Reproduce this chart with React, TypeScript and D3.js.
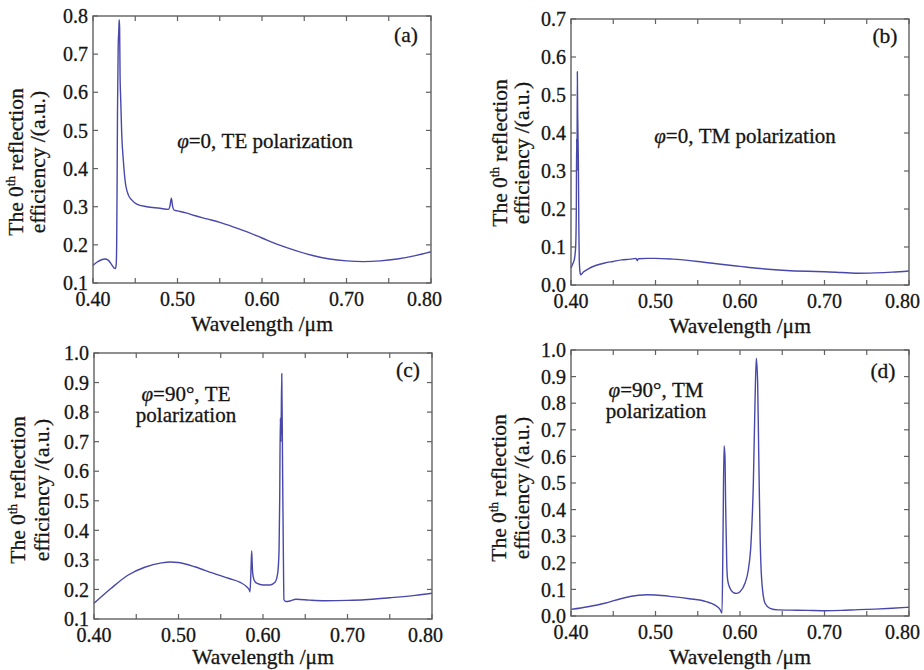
import React from "react";
import * as d3 from "d3";

// ---- Data ----
const wlA = [0.400, 0.405, 0.410, 0.414, 0.418, 0.422, 0.425, 0.4265, 0.4275, 0.428, 0.4285, 0.429, 0.4298, 0.4305, 0.431, 0.4315, 0.432, 0.4328, 0.434, 0.4359, 0.4379, 0.4418, 0.4458, 0.4517, 0.4635, 0.4793, 0.4892, 0.4911, 0.4927, 0.4943, 0.4959, 0.500, 0.510, 0.520, 0.535, 0.550, 0.565, 0.580, 0.600, 0.620, 0.640, 0.660, 0.680, 0.700, 0.720, 0.740, 0.760, 0.780, 0.800];
const effA = [0.146, 0.155, 0.161, 0.163, 0.16, 0.148, 0.139, 0.138, 0.15, 0.2, 0.35, 0.55, 0.72, 0.76, 0.79, 0.77, 0.65, 0.58, 0.49, 0.422, 0.37, 0.331, 0.318, 0.307, 0.3, 0.296, 0.293, 0.302, 0.322, 0.3, 0.291, 0.289, 0.284, 0.277, 0.268, 0.259, 0.248, 0.236, 0.218, 0.2, 0.185, 0.172, 0.163, 0.158, 0.156, 0.158, 0.163, 0.171, 0.182];

const wlB = [0.400, 0.402, 0.404, 0.4055, 0.4063, 0.4067, 0.4071, 0.4075, 0.4079, 0.4087, 0.4093, 0.4098, 0.4106, 0.4114, 0.415, 0.42, 0.43, 0.44, 0.45, 0.46, 0.47, 0.477, 0.4785, 0.4795, 0.49, 0.50, 0.52, 0.55, 0.58, 0.60, 0.62, 0.65, 0.68, 0.70, 0.72, 0.74, 0.76, 0.78, 0.80];
const effB = [0.045, 0.055, 0.068, 0.1, 0.2, 0.386, 0.3, 0.561, 0.45, 0.33, 0.15, 0.066, 0.035, 0.027, 0.035, 0.042, 0.052, 0.058, 0.062, 0.066, 0.068, 0.07, 0.064, 0.069, 0.07, 0.07, 0.068, 0.062, 0.054, 0.049, 0.044, 0.039, 0.036, 0.035, 0.033, 0.031, 0.032, 0.034, 0.037];

const wlC = [0.40, 0.42, 0.44, 0.46, 0.48, 0.49, 0.50, 0.52, 0.54, 0.56, 0.573, 0.5807, 0.5838, 0.5846, 0.5856, 0.5866, 0.5872, 0.5878, 0.5894, 0.5925, 0.6004, 0.6083, 0.6142, 0.6174, 0.619, 0.6198, 0.6205, 0.6212, 0.6222, 0.6232, 0.624, 0.6248, 0.627, 0.632, 0.639, 0.655, 0.673, 0.70, 0.72, 0.75, 0.78, 0.80];
const effC = [0.153, 0.203, 0.248, 0.275, 0.29, 0.293, 0.291, 0.276, 0.256, 0.237, 0.224, 0.209, 0.198, 0.192, 0.25, 0.331, 0.29, 0.255, 0.232, 0.221, 0.215, 0.215, 0.224, 0.255, 0.333, 0.514, 0.78, 0.7, 0.93, 0.6, 0.35, 0.165, 0.159, 0.161, 0.167, 0.164, 0.162, 0.163, 0.165, 0.172, 0.18, 0.187];

const wlD = [0.40, 0.42, 0.44, 0.46, 0.48, 0.49, 0.50, 0.52, 0.54, 0.56, 0.5704, 0.5763, 0.5787, 0.5799, 0.5811, 0.5822, 0.5831, 0.5843, 0.5854, 0.5882, 0.5921, 0.5961, 0.60, 0.6059, 0.6098, 0.613, 0.6158, 0.6178, 0.6193, 0.6209, 0.6221, 0.6237, 0.6257, 0.6296, 0.6355, 0.6453, 0.66, 0.68, 0.70, 0.72, 0.74, 0.76, 0.78, 0.80];
const effD = [0.025, 0.035, 0.048, 0.066, 0.078, 0.08, 0.079, 0.073, 0.065, 0.054, 0.041, 0.025, 0.011, 0.3, 0.64, 0.6, 0.4, 0.198, 0.135, 0.104, 0.088, 0.085, 0.091, 0.123, 0.173, 0.273, 0.499, 0.812, 0.969, 0.875, 0.624, 0.311, 0.135, 0.048, 0.029, 0.023, 0.022, 0.021, 0.02, 0.021, 0.024, 0.026, 0.029, 0.033];

const xTickMajor = [0.40, 0.50, 0.60, 0.70, 0.80];
const xTickMinor = [0.40, 0.45, 0.50, 0.55, 0.60, 0.65, 0.70, 0.75, 0.80];
const yTicksA = [0.1, 0.2, 0.3, 0.4, 0.5, 0.6, 0.7, 0.8];
const yTicksB = [0.0, 0.1, 0.2, 0.3, 0.4, 0.5, 0.6, 0.7];
const yTicksC = [0.1, 0.2, 0.3, 0.4, 0.5, 0.6, 0.7, 0.8, 0.9, 1.0];
const yTicksD = [0.0, 0.1, 0.2, 0.3, 0.4, 0.5, 0.6, 0.7, 0.8, 0.9, 1.0];

const panelLabels = ["(a)", "(b)", "(c)", "(d)"];
const annotA = ["=0, TE polarization"];
const annotB = ["=0, TM polarization"];
const annotC = ["=90°, TE", "polarization"];
const annotD = ["=90°, TM", "polarization"];
const xTitle = "Wavelength /μm";

// ---- Layout ----
const FONT = "'Liberation Serif', 'Times New Roman', serif";
const LINE = "#4848ac";
const FRAME = "#606060";
const TXT = "#151515";

type Panel = {
  wl: number[];
  eff: number[];
  yTicks: number[];
  left: number;
  top: number;
  w: number;
  h: number;
  label: string;
  labelPos: [number, number];
  annot: string[];
  annotPos: [number, number];
  annotGap: number;
  ytl: [number, number];
  ytlY: number;
};

const panels: Panel[] = [
  { wl: wlA, eff: effA, yTicks: yTicksA, left: 93, top: 16, w: 338, h: 267, label: panelLabels[0], labelPos: [406, 42], annot: annotA, annotPos: [265, 148], annotGap: 21, ytl: [15, 37], ytlY: 162 },
  { wl: wlB, eff: effB, yTicks: yTicksB, left: 571, top: 19, w: 338, h: 266, label: panelLabels[1], labelPos: [885, 43], annot: annotB, annotPos: [745, 143], annotGap: 21, ytl: [499, 521], ytlY: 153 },
  { wl: wlC, eff: effC, yTicks: yTicksC, left: 94, top: 353, w: 338, h: 266, label: panelLabels[2], labelPos: [408, 377], annot: annotC, annotPos: [186, 401], annotGap: 21, ytl: [17, 41], ytlY: 490 },
  { wl: wlD, eff: effD, yTicks: yTicksD, left: 571, top: 350, w: 338, h: 266, label: panelLabels[3], labelPos: [883, 378], annot: annotD, annotPos: [656, 397], annotGap: 21, ytl: [498, 521], ytlY: 488 },
];

function PanelView({ p }: { p: Panel }) {
  const x = d3.scaleLinear().domain([0.4, 0.8]).range([p.left, p.left + p.w]);
  const yDom = d3.extent(p.yTicks) as [number, number];
  const y = d3.scaleLinear().domain(yDom).range([p.top + p.h, p.top]);
  const pts = p.wl.map((w, i) => [w, p.eff[i]] as [number, number]);
  const line = d3
    .line<[number, number]>()
    .x((d) => x(d[0]))
    .y((d) => y(d[1]))
    .curve(d3.curveMonotoneX);
  const bottom = p.top + p.h;
  const right = p.left + p.w;
  const tl = 5;
  const tx = { fontFamily: FONT, fill: TXT, stroke: TXT, strokeWidth: 0.3 };
  const lastMajor = xTickMajor[xTickMajor.length - 1];
  return (
    <g>
      <path d={line(pts) || ""} fill="none" stroke={LINE} strokeWidth={1.4} />
      <rect x={p.left} y={p.top} width={p.w} height={p.h} fill="none" stroke={FRAME} strokeWidth={1.4} />
      {xTickMinor.map((t) => (
        <g key={"xt" + t}>
          <line x1={x(t)} x2={x(t)} y1={bottom} y2={bottom - tl} stroke={FRAME} strokeWidth={1.2} />
          <line x1={x(t)} x2={x(t)} y1={p.top} y2={p.top + tl} stroke={FRAME} strokeWidth={1.2} />
        </g>
      ))}
      {p.yTicks.map((t) => (
        <g key={"yt" + t}>
          <line x1={p.left} x2={p.left + tl} y1={y(t)} y2={y(t)} stroke={FRAME} strokeWidth={1.2} />
          <line x1={right} x2={right - tl} y1={y(t)} y2={y(t)} stroke={FRAME} strokeWidth={1.2} />
          <text x={p.left - 5} y={y(t)} dy="0.36em" textAnchor="end" fontSize={20} {...tx}>
            {t.toFixed(1)}
          </text>
        </g>
      ))}
      {xTickMajor.map((t) => (
        <text
          key={"xl" + t}
          x={t === lastMajor ? x(t) + 11 : x(t)}
          y={bottom + 23}
          textAnchor={t === lastMajor ? "end" : "middle"}
          fontSize={20}
          {...tx}
        >
          {t.toFixed(2)}
        </text>
      ))}
      <text x={p.left + p.w / 2} y={Math.min(bottom + 48, 664)} textAnchor="middle" fontSize={21.5} {...tx}>
        {xTitle}
      </text>
      <text transform={`translate(${p.ytl[0]},${p.ytlY}) rotate(-90)`} textAnchor="middle" dy="0.35em" fontSize={21.5} {...tx}>
        The 0<tspan fontSize={13} dy="-8">th</tspan>
        <tspan dy="8"> reflection</tspan>
      </text>
      <text transform={`translate(${p.ytl[1]},${p.ytlY}) rotate(-90)`} textAnchor="middle" dy="0.35em" fontSize={21.5} {...tx}>
        efficiency /(a.u.)
      </text>
      <text x={p.labelPos[0]} y={p.labelPos[1]} textAnchor="middle" fontSize={21.5} {...tx}>
        {p.label}
      </text>
      {p.annot.map((s, i) => (
        <text key={"an" + i} x={p.annotPos[0]} y={p.annotPos[1] + i * p.annotGap} textAnchor="middle" fontSize={21} {...tx}>
          {i === 0 ? <tspan fontStyle="italic">φ</tspan> : null}
          {s}
        </text>
      ))}
    </g>
  );
}

export default function App() {
  return (
    <svg width={924} height={670} style={{ position: "absolute", left: 0, top: 0, background: "#fff" }}>
      <rect x={0} y={0} width={924} height={670} fill="#fff" />
      {panels.map((p, i) => (
        <PanelView key={i} p={p} />
      ))}
    </svg>
  );
}
